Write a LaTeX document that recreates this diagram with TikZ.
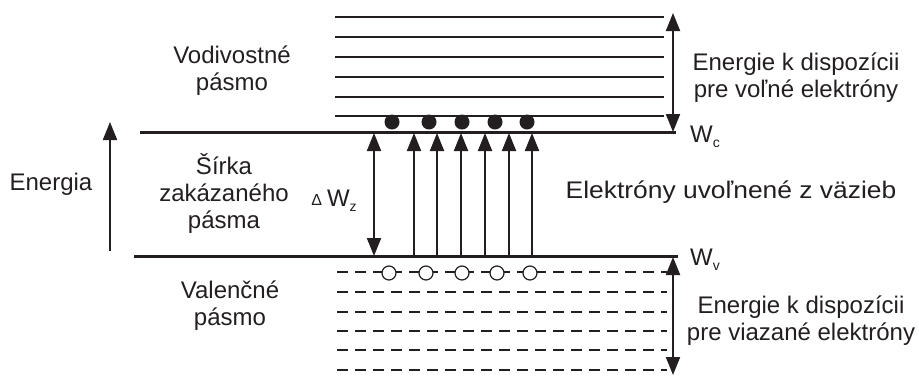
\documentclass[tikz,border=0pt]{standalone}
\usepackage{fontspec}
\setmainfont{Liberation Sans}
\usetikzlibrary{arrows.meta}

\definecolor{ink}{HTML}{231F20}
\tikzset{
  level/.style={line width=1.2pt, ink},
  edgeline/.style={line width=3pt, ink},
  dashlevel/.style={line width=2pt, ink, dash pattern=on 11pt off 7pt},
  electron/.style={circle, fill=ink, minimum size=15pt, inner sep=0pt},
  hole/.style={circle, draw=ink, fill=white, line width=1.2pt, minimum size=14pt, inner sep=0pt},
  lbl/.style={font=\fontsize{24}{27}\selectfont, text=ink, align=center, inner sep=0pt},
  uparrow/.style={line width=2pt, ink, -{Triangle[length=18pt,width=14pt]}},
  twoway/.style={line width=2pt, ink, {Triangle[length=18pt,width=14pt]}-{Triangle[length=18pt,width=14pt]}},
}
\newcommand{\lowidx}[1]{\raisebox{-5pt}{\fontsize{14}{14}\selectfont #1}}

\begin{document}
\begin{tikzpicture}[x=1pt,y=-1pt]
  \useasboundingbox (0,0) rectangle (919,376);
  % conduction band
  \foreach \y in {17,37,57,77,97,116}
    \draw[level] (335,\y) -- (664,\y);
  \draw[edgeline] (140,132) -- (676,132);
  % valence band
  \draw[edgeline] (134,256) -- (678,256);
  \foreach \y in {272,292,312,331,350,370}
    \draw[dashlevel] (337,\y) -- (667,\y);
  % excited electrons
  \foreach \x [count=\i] in {414,437,461,485,509,532} {
    \coordinate (lo\i) at (\x,256);
    \coordinate (hi\i) at (\x,133);
    \draw[uparrow] (lo\i) -- (hi\i);
  }
  \foreach \x [count=\i] in {392,429,462,495,527}
    \node[electron] (el\i) at (\x,122) {};
  \foreach \x [count=\i] in {389,426,462,497,530}
    \node[hole] (ho\i) at (\x,273) {};
  % gap width
  \coordinate (gtop) at (374,133);
  \coordinate (gbot) at (374,256);
  \draw[twoway] (gtop) -- (gbot);
  \node[lbl, anchor=base] (dw) at (334,206)
    {\raisebox{0.5pt}{\fontsize{16}{16}\selectfont Δ}\hspace{5pt}W\lowidx{z}};
  % energy axis
  \coordinate (en0) at (110,251);
  \coordinate (en1) at (110,122);
  \draw[uparrow] (en0) -- (en1);
  \node[lbl] (energia) at (51,184) {Energia};
  % available energy ranges
  \coordinate (ct) at (673,13);
  \coordinate (cb) at (673,132);
  \draw[twoway] (ct) -- (cb);
  \coordinate (vt) at (673,257);
  \coordinate (vb) at (673,375);
  \draw[twoway] (vt) -- (vb);
  % labels
  \node[lbl] (cond) at (232,71) {Vodivostné\\pásmo};
  \node[lbl] (gap) at (224,193) {Šírka\\zakázaného\\pásma};
  \node[lbl] (val) at (230,306) {Valenčné\\pásmo};
  \node[lbl] (free) at (796,78) {Energie k dispozícii\\pre voľné elektróny};
  \node[lbl] (bound) at (801,321) {Energie k dispozícii\\pre viazané elektróny};
  \node[lbl] (rel) at (731,192) {\scalebox{1.1}[1]{Elektróny uvoľnené z väzieb}};
  \node[lbl, anchor=west] (wc) at (690,137) {W\lowidx{c}};
  \node[lbl, anchor=west] (wv) at (690,260) {W\lowidx{v}};
\end{tikzpicture}
\end{document}
